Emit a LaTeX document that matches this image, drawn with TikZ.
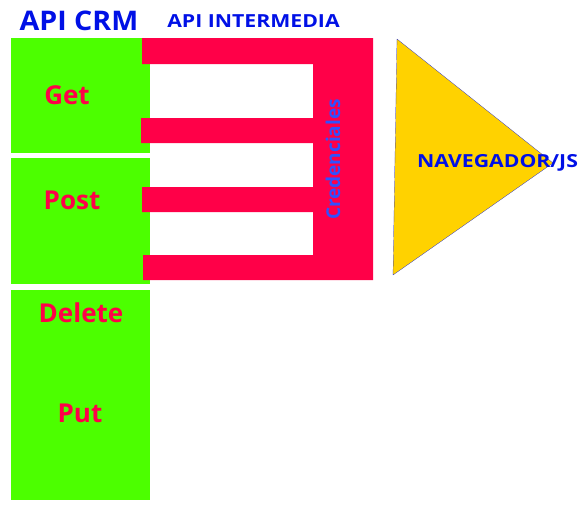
\documentclass[tikz,border=0pt]{standalone}
\usepackage{fontspec}
\setmainfont{Open Sans}
\newfontfamily\widefont[FakeStretch=1.18]{Open Sans}
\newfontfamily\crmfont[FakeStretch=1.06]{Open Sans}
\definecolor{grn}{HTML}{4CFF00}
\definecolor{rd}{HTML}{FF0048}
\definecolor{yel}{HTML}{FFD200}
\definecolor{blu}{HTML}{0010E6}
\definecolor{cblu}{HTML}{3050FF}
\begin{document}
\begin{tikzpicture}[x=1pt,y=-1pt,
  crmbox/.style={fill=grn,draw=none,inner sep=0pt,anchor=north west},
  verb/.style={text=rd,font=\bfseries\fontsize{26}{28}\selectfont,inner sep=0pt},
  title/.style={text=blu,font=\widefont\bfseries\fontsize{18}{20}\selectfont,inner sep=0pt}]
\useasboundingbox (0,0) rectangle (586,504);
% green boxes
\node[crmbox,minimum width=139pt,minimum height=115pt] (b1) at (11,38) {};
\node[crmbox,minimum width=139pt,minimum height=126pt] (b2) at (11,158) {};
\node[crmbox,minimum width=139pt,minimum height=210pt] (b3) at (11,290) {};
% red comb
\fill[rd] (142,38) -- (373,38) -- (373,280) -- (143,280) -- (143,255) -- (313,255)
  -- (313,212) -- (142,212) -- (142,187) -- (313,187) -- (313,143) -- (141,143)
  -- (141,118) -- (313,118) -- (313,64) -- (142,64) -- cycle;
% triangle
\fill[yel,draw=blu,line width=0.2pt] (397,39) -- (553,163) -- (393,275) -- cycle;
% texts
\node[title,font=\crmfont\bfseries\fontsize{27}{29}\selectfont] (t1) at (79,21) {API CRM};
\node[title] (t2) at (253.5,21.5) {API INTERMEDIA};
\node[title] (t3) at (497.5,163) {NAVEGADOR/JS};
\node[text=cblu,font=\bfseries\fontsize{19}{21}\selectfont,inner sep=0pt,rotate=90] (cred) at (333,159.5) {Credenciales};
\node[verb] (get) at (67,95) {Get};
\node[verb] (post) at (72,200) {Post};
\node[verb] (del) at (81,313) {Delete};
\node[verb] (put) at (80,413) {Put};
\end{tikzpicture}
\end{document}
